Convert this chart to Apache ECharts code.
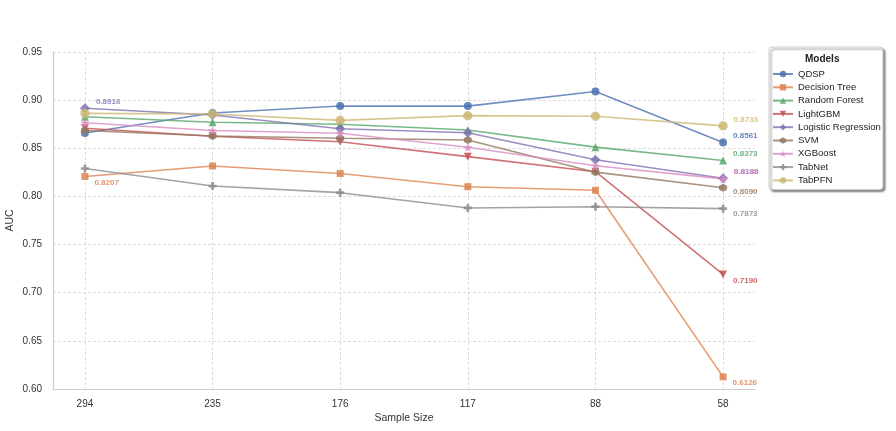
<!DOCTYPE html>
<html>
<head>
  <meta charset="utf-8">
  <title>AUC vs Sample Size</title>
  <style>
    html, body { margin: 0; padding: 0; background: #fff; }
  </style>
</head>
<body>
  <div id="main" style="width: 896px;height:431px;"></div>
</body>
<script src="https://cdn.jsdelivr.net/npm/echarts@6.0.0/dist/echarts.min.js"></script>
<script>
// sample sizes on the x axis (left to right)
const sampleSizes = ['294', '235', '176', '117', '88', '58'];

const models = ['QDSP', 'Decision Tree', 'Random Forest', 'LightGBM', 'Logistic Regression',
  'SVM', 'XGBoost', 'TabNet', 'TabPFN'];

// AUC per model, same order as sampleSizes
const qdsp         = [0.8659, 0.8866, 0.8939, 0.8938, 0.9090, 0.8561];
const decisionTree = [0.8207, 0.8316, 0.8238, 0.8101, 0.8064, 0.6126];
const randomForest = [0.8828, 0.8770, 0.8749, 0.8690, 0.8512, 0.8373];
const lightGBM     = [0.8708, 0.8625, 0.8568, 0.8413, 0.8257, 0.7190];
const logReg       = [0.8916, 0.8846, 0.8703, 0.8662, 0.8381, 0.8188];
const svm          = [0.8685, 0.8628, 0.8605, 0.8586, 0.8252, 0.8090];
const xgboost      = [0.8766, 0.8685, 0.8656, 0.8510, 0.8319, 0.8182];
const tabnet       = [0.8290, 0.8108, 0.8039, 0.7880, 0.7893, 0.7873];
const tabpfn       = [0.8863, 0.8856, 0.8790, 0.8839, 0.8832, 0.8733];

const allValues = [qdsp, decisionTree, randomForest, lightGBM, logReg, svm, xgboost, tabnet, tabpfn];

// seaborn "deep" palette
const colors = ['#4c72b0', '#dd8452', '#55a868', '#c44e52', '#8172b3',
  '#937860', '#da8bc3', '#8c8c8c', '#ccb974'];

const symbols = [
  'circle',
  'rect',
  'triangle',
  'path://M0,0 L10,0 L5,10 Z',
  'diamond',
  'path://M5,0 L9.33,2.5 L9.33,7.5 L5,10 L0.67,7.5 L0.67,2.5 Z',
  'path://M5,0 L6.2,3.6 L10,3.7 L7,6 L8.1,9.6 L5,7.5 L1.9,9.6 L3,6 L0,3.7 L3.8,3.6 Z',
  'path://M3.3,0 H6.7 V3.3 H10 V6.7 H6.7 V10 H3.3 V6.7 H0 V3.3 H3.3 Z',
  'path://M3,0 H7 L10,3 V7 L7,10 H3 L0,7 V3 Z'
];
const symbolSizes = [8, 7, 8, 8, 10, 8, 9, 8, 9];

// vertical nudge of the value labels (style only)
const endLabelDy = [-7, 6, -7, 6, -7, 4, -7, 5, -6];
const startLabels = { 1: 6, 4: -6 }; // Decision Tree below, Logistic Regression above

const series = models.map((name, i) => {
  const data = allValues[i].map((v, j) => {
    let item = { value: [j, v] };
    let dy = null;
    if (j === sampleSizes.length - 1) dy = endLabelDy[i];
    if (j === 0 && startLabels[i] !== undefined) dy = startLabels[i];
    if (dy !== null) {
      item.label = {
        show: true,
        position: 'right',
        distance: 6,
        offset: [0, dy],
        color: colors[i],
        fontSize: 8,
        fontWeight: 'bold',
        formatter: v.toFixed(4)
      };
    }
    return item;
  });
  return {
    name: name,
    type: 'line',
    data: data,
    symbol: symbols[i],
    symbolSize: symbolSizes[i],
    showAllSymbol: true,
    lineStyle: { width: 1.6, color: colors[i], opacity: 0.8 },
    itemStyle: { color: colors[i], opacity: 0.85 },
    emphasis: { disabled: true },
    z: 2
  };
});

let myChart = echarts.init(document.querySelector('#main'));

let option = {
  animation: false,
  color: colors,
  textStyle: { fontFamily: 'Liberation Sans, Arial, sans-serif' },
  grid: { left: 53, right: 141, top: 52, bottom: 42, outerBoundsMode: 'none', containLabel: false },
  xAxis: {
    type: 'value',
    min: -0.25,
    max: 5.25,
    name: 'Sample Size',
    nameLocation: 'middle',
    nameGap: 24,
    nameMoveOverlap: false,
    nameTextStyle: { fontSize: 10.5, color: '#333' },
    axisLine: { show: true, onZero: false, lineStyle: { color: '#cccccc', width: 1.2 } },
    axisTick: { show: false, customValues: [0, 1, 2, 3, 4, 5] },
    axisLabel: {
      customValues: [0, 1, 2, 3, 4, 5],
      fontSize: 10,
      color: '#333',
      margin: 10,
      formatter: function (v) { return sampleSizes[Math.round(v)]; }
    },
    splitLine: { show: true, lineStyle: { color: '#d4d4d4', type: [3, 2], width: 0.8 } }
  },
  yAxis: {
    type: 'value',
    min: 0.6,
    max: 0.95,
    interval: 0.05,
    name: 'AUC',
    nameLocation: 'middle',
    nameGap: 37,
    nameMoveOverlap: false,
    nameTextStyle: { fontSize: 10.5, color: '#333' },
    axisLine: { show: true, onZero: false, lineStyle: { color: '#cccccc', width: 1.2 } },
    axisTick: { show: false },
    axisLabel: {
      fontSize: 10,
      color: '#333',
      margin: 11,
      formatter: function (v) { return v.toFixed(2); }
    },
    splitLine: { show: true, lineStyle: { color: '#d4d4d4', type: [3, 2], width: 0.8 } }
  },
  legend: {
    orient: 'vertical',
    left: 769,
    top: 47,
    padding: [22, 2, 4, 3],
    itemWidth: 20,
    itemHeight: 8,
    itemGap: 3.3,
    backgroundColor: '#fff',
    borderColor: '#cfcfcf',
    borderWidth: 1,
    borderRadius: 3,
    shadowColor: 'rgba(0,0,0,0.45)',
    shadowBlur: 2,
    shadowOffsetX: 2,
    shadowOffsetY: 2,
    textStyle: { fontSize: 9.5, color: '#222' },
    data: models
  },
  graphic: [{
    type: 'text',
    left: 805,
    top: 54,
    z: 100,
    style: { text: 'Models', fontSize: 10, fontWeight: 'bold', fill: '#222',
      fontFamily: 'Liberation Sans, Arial, sans-serif' }
  }],
  series: series
};
myChart.setOption(option);
</script>
</html>
